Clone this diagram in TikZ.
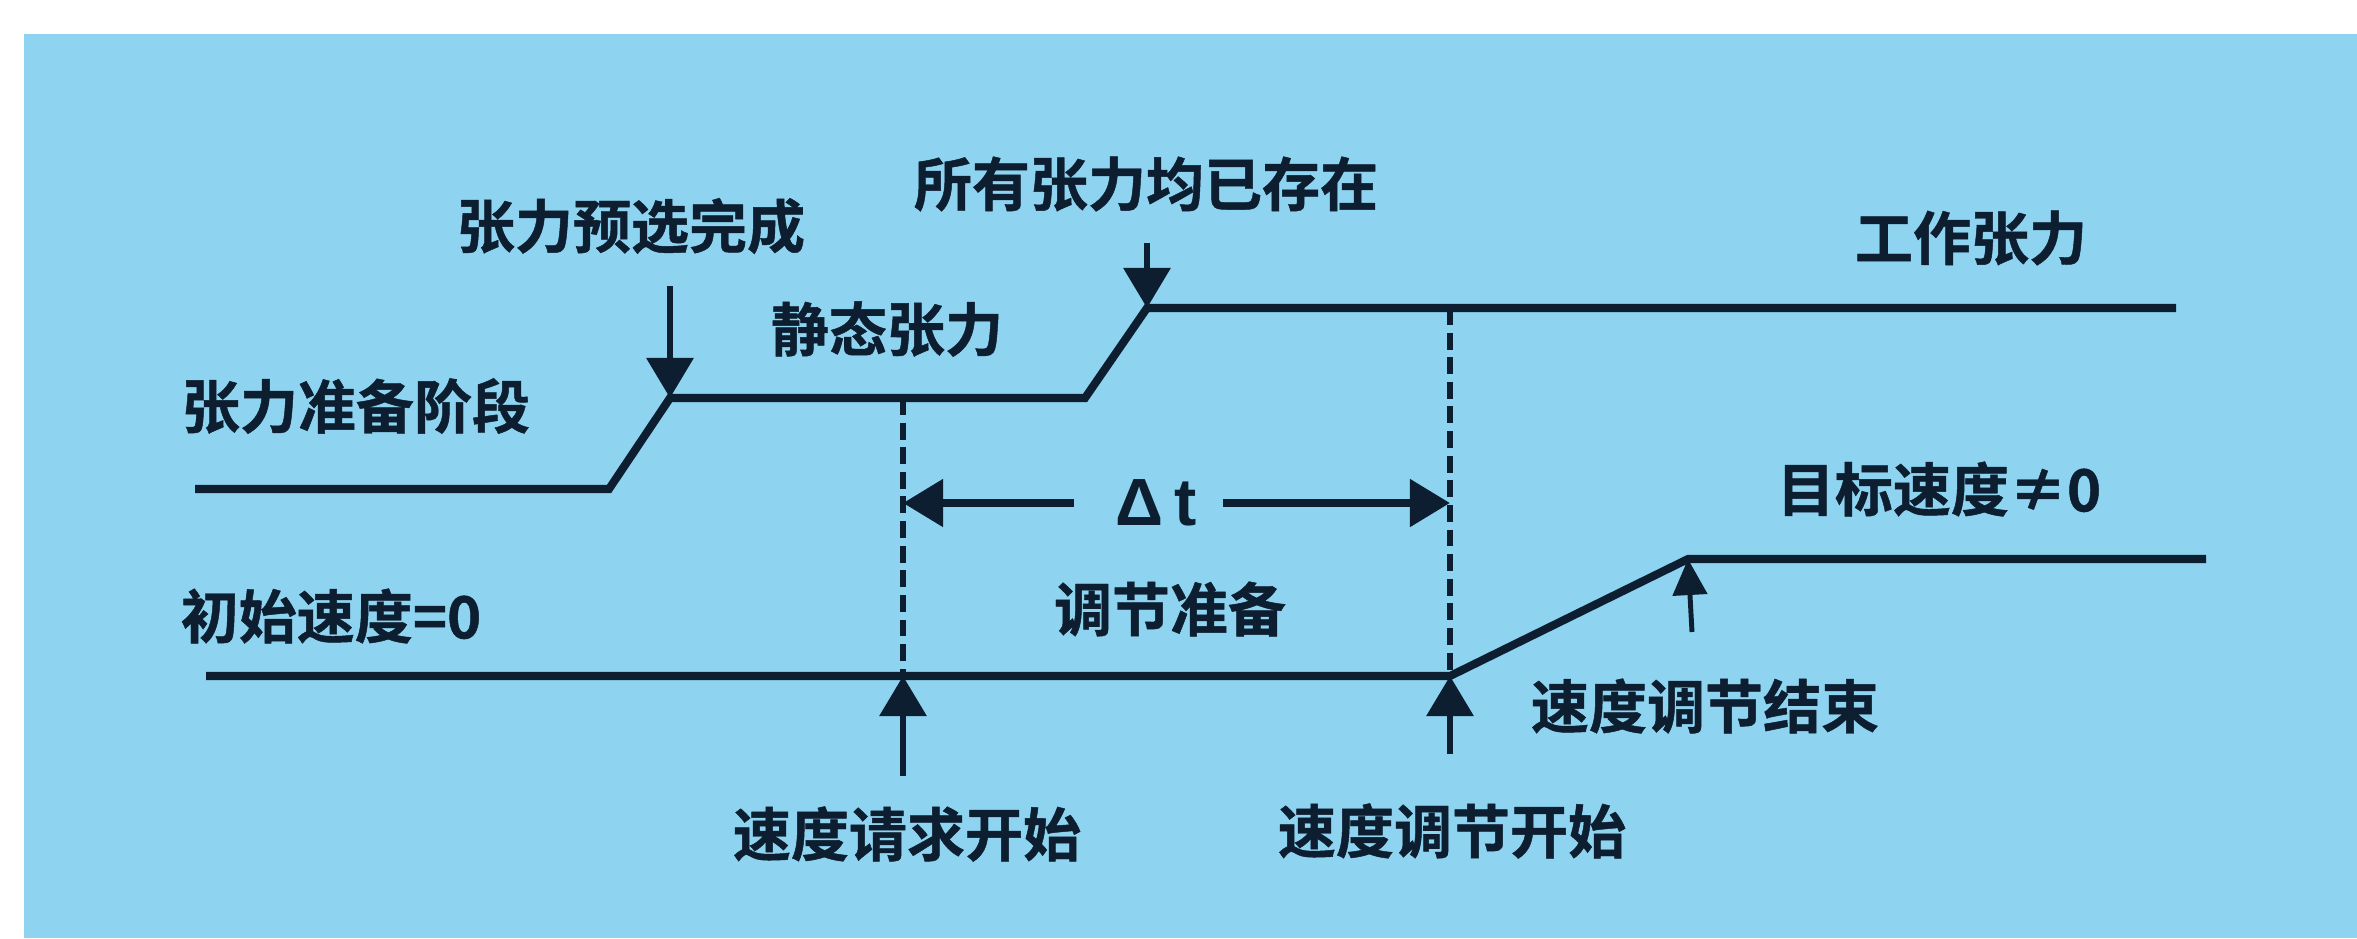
\documentclass[tikz,border=0pt]{standalone}
\usepackage{fontspec}
\newfontfamily\cjk{Noto Sans CJK SC}[BoldFont={Noto Sans CJK SC Bold},BoldFeatures={FakeBold=0.8}]
\newfontfamily\latinsans{Liberation Sans}
\usetikzlibrary{arrows.meta}
\definecolor{bgblue}{RGB}{142,211,240}
\definecolor{ink}{RGB}{12,30,48}
\tikzset{
  lbl/.style={inner sep=0pt, text=ink, font=\cjk\bfseries\fontsize{16.5pt}{18pt}\selectfont},
  sig/.style={draw=ink, line width=2.3pt, line join=miter},
  guide/.style={draw=ink, line width=1.7pt, dash pattern=on 4.8pt off 2.2pt},
  arr/.style={draw=ink, line width=1.8pt, -{Triangle[length=0.4cm,width=0.46cm]}},
}
\begin{document}
\begin{tikzpicture}[x=0.01cm,y=-0.01cm]
\useasboundingbox (0,0) rectangle (2357,938);
\fill[white] (0,0) rectangle (2357,938);
\fill[bgblue] (24,34) rectangle (2357,938);
% tension signal points
\coordinate (t0) at (195,489);
\coordinate (t1) at (609,489);
\coordinate (t2) at (670,398);
\coordinate (t3) at (1085,398);
\coordinate (t4) at (1147,308);
\coordinate (t5) at (2176,308);
% speed signal points
\coordinate (s0) at (206,676);
\coordinate (s1) at (1450,676);
\coordinate (s2) at (1688,559);
\coordinate (s3) at (2206,559);
% guide points
\coordinate (g1t) at (903,398);
\coordinate (g1b) at (903,676);
\coordinate (g2t) at (1450,308);
\coordinate (g2b) at (1450,676);
% arrow tails
\coordinate (a1) at (670,286);
\coordinate (a2) at (1147,243);
\coordinate (a3) at (903,776);
\coordinate (a4) at (1450,754);
\coordinate (a5) at (1692,632);
\coordinate (dl) at (1074,503);
\coordinate (dr) at (1223,503);
% labels
\node[lbl] (pre) at (631,226) {张力预选完成};
\node[lbl] (prep) at (356,406) {张力准备阶段};
\node[lbl] (stat) at (887,329) {静态张力};
\node[lbl] (all) at (1146,184) {所有张力均已存在};
\node[lbl] (work) at (1971,238) {工作张力};
\node[lbl] (init) at (331,616) {初始速度=0};
\node[lbl] (adj) at (1170,609) {调节准备};
\node[lbl] (target) at (1939,489) {目标速度≠0};
\node[lbl] (req) at (907,834) {速度请求开始};
\node[lbl] (sstart) at (1452,831) {速度调节开始};
\node[lbl] (send) at (1705,706) {速度调节结束};
\node[inner sep=0pt, text=ink, font=\latinsans\bfseries\fontsize{19pt}{21pt}\selectfont] (dt) at (1156,503) {Δ\,t};
% signals
\draw[sig] (t0) -- (t1) -- (t2) -- (t3) -- (t4) -- (t5);
\draw[sig] (s0) -- (s1) -- (s2) -- (s3);
% guides
\draw[guide] (g1t) -- (g1b);
\draw[guide] (g2t) -- (g2b);
% delta t arrows
\draw[arr, line width=2.3pt] (dl) -- (dl -| g1t);
\draw[arr, line width=2.3pt] (dr) -- (dr -| g2t);
% event arrows
\draw[arr] (a1) -- (t2);
\draw[arr] (a2) -- (t4);
\draw[arr] (a3) -- (g1b);
\draw[arr] (a4) -- (g2b);
\draw[arr, line width=1.4pt, -{Triangle[length=0.36cm,width=0.34cm]}] (a5) -- (s2);
\end{tikzpicture}
\end{document}
